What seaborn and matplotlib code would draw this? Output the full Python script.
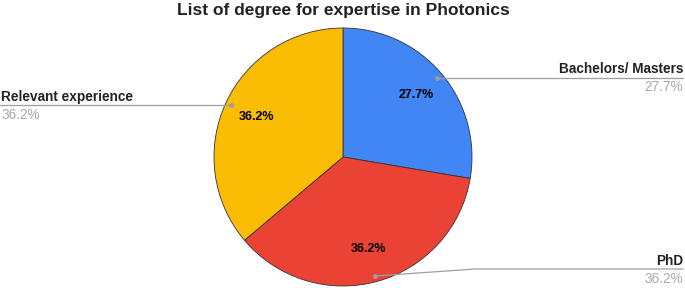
import matplotlib
matplotlib.use("Agg")
import matplotlib.pyplot as plt
import seaborn as sns

sns.set_theme(style="white")
plt.rcParams['font.family'] = ['Liberation Sans', 'DejaVu Sans']

# data (counts read as shares of 47 respondents)
categories = ['Bachelors/ Masters', 'PhD', 'Relevant experience']
counts = [13, 17, 17]
colors = ['#4285F4', '#EA4335', '#FBBC04']
pct_labels = ['27.7%', '36.2%', '36.2%']

W, H = 685, 288
fig = plt.figure(figsize=(W / 100, H / 100), dpi=100)
ax = fig.add_axes([0, 0, 1, 1])
ax.set_xlim(0, W)
ax.set_ylim(0, H)
ax.set_aspect('equal')
ax.axis('off')

cx, cy, r = 343, H - 157, 129
wedges, texts, autotexts = ax.pie(
    counts, colors=colors, startangle=90, counterclock=False,
    center=(cx, cy), radius=r, autopct='%1.1f%%', pctdistance=0.74,
    wedgeprops=dict(edgecolor='#333333', linewidth=0.6),
    textprops=dict(fontsize=9, fontweight='bold', color='black'))
ax.set_xlim(0, W)
ax.set_ylim(0, H)

ax.text(cx, H - 11, 'List of degree for expertise in Photonics', ha='center', va='center',
        fontsize=12.5, fontweight='bold', color='#222222')

gray = '#9e9e9e'
Y = lambda y: H - y
# Bachelors/ Masters
ax.plot([437, 683], [Y(78), Y(78)], color=gray, lw=0.9)
ax.plot(437, Y(78), 'o', color=gray, ms=2.5)
ax.text(683, Y(69), categories[0], ha='right', va='center', fontsize=9.8, fontweight='bold', color='#222222')
ax.text(683, Y(87), pct_labels[0], ha='right', va='center', fontsize=9.8, color='#a8a8a8')
# PhD
ax.plot([375, 475, 683], [Y(276), Y(269), Y(269)], color=gray, lw=0.9)
ax.plot(375, Y(276), 'o', color=gray, ms=2.5)
ax.text(683, Y(261), categories[1], ha='right', va='center', fontsize=9.8, fontweight='bold', color='#222222')
ax.text(683, Y(279), pct_labels[1], ha='right', va='center', fontsize=9.8, color='#a8a8a8')
# Relevant experience
ax.plot([0, 231], [Y(105), Y(105)], color=gray, lw=0.9)
ax.plot(231, Y(105), 'o', color=gray, ms=2.5)
ax.text(1, Y(97), categories[2], ha='left', va='center', fontsize=9.8, fontweight='bold', color='#222222')
ax.text(1, Y(115), pct_labels[2], ha='left', va='center', fontsize=9.8, color='#a8a8a8')

fig.savefig('out.png', dpi=100, facecolor='white')
